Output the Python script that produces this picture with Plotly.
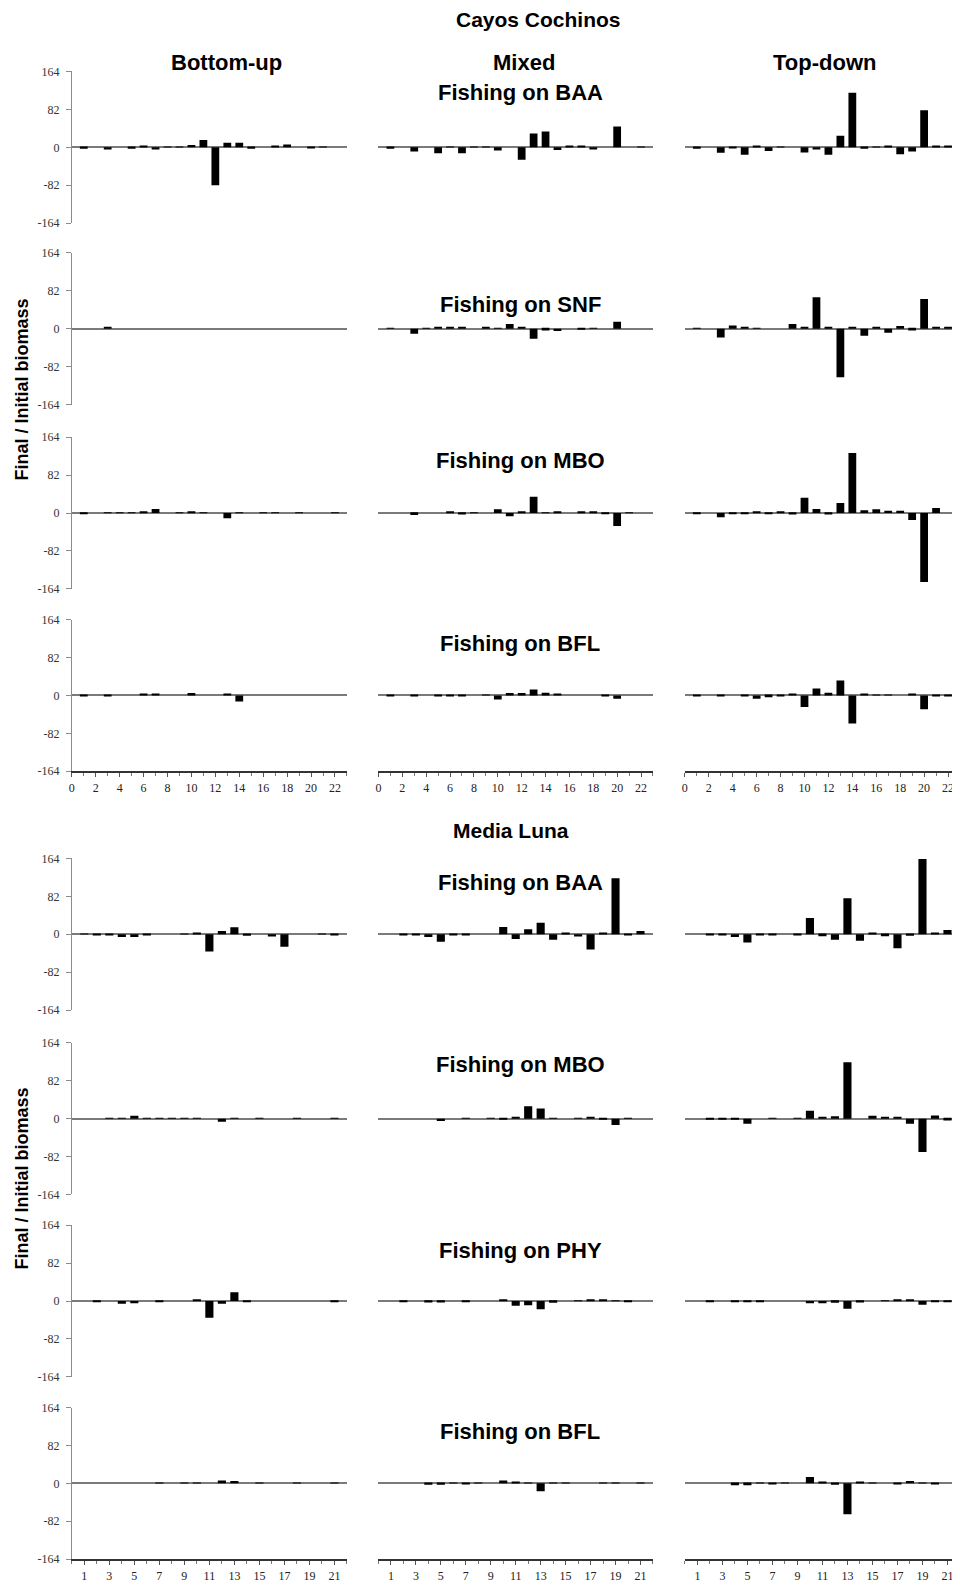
import plotly.graph_objects as go

# ---------------- data ----------------
# Cayos Cochinos: functional groups 1..22
cc_groups = list(range(1, 23))
cc_baa_bu = [-3, 0, -5, 0, -3, 3, -5, 1, 1, 5, 16, -82, 10, 10, -3, 0, 4, 6, 0, -1, 1, 0]
cc_baa_mx = [-3, 0, -9, 0, -13, 1, -13, 1, 1, -7, 0, -27, 30, 34, -6, 2, 3, -5, 0, 45, 0, 1]
cc_baa_td = [-3, 0, -12, -1, -16, 3, -8, 1, 0, -11, -5, -16, 25, 118, -3, 1, 3, -15, -9, 80, 4, 2]

cc_snf_bu = [0, 0, 4, 0, 0, 0, 0, 0, 0, 0, 0, 0, 0, 0, 0, 0, 0, 0, 0, 0, 0, 0]
cc_snf_mx = [1, 0, -11, 1, 3, 2, 3, 0, 3, 1, 10, 2, -22, -4, -5, 0, -2, 1, 0, 15, 0, 0]
cc_snf_td = [1, 0, -19, 7, 4, 1, 0, 0, 10, 4, 68, 3, -105, 2, -15, 4, -9, 6, -4, 64, 2, 2]

cc_mbo_bu = [-1, 0, 1, 1, 1, 4, 9, 0, 1, 3, 1, 0, -11, 1, 0, 1, 1, 0, 1, 0, 0, 1]
cc_mbo_mx = [0, 0, -4, 0, 0, 2, -3, 1, 0, 8, -7, 2, 35, 1, 3, 0, 2, 2, -1, -28, 1, 0]
cc_mbo_td = [-1, 0, -9, -1, -2, 4, -1, 2, -3, 33, 9, -3, 22, 130, 6, 8, 5, 5, -15, -149, 11, 0]

cc_bfl_bu = [-1, 0, -1, 0, 0, 2, 2, 0, 0, 5, 0, 0, 4, -13, 0, 0, 0, 0, 0, 0, 0, 0]
cc_bfl_mx = [-1, 0, -2, 0, -1, -2, -2, 0, 1, -9, 5, 5, 13, 6, 2, 0, 0, 0, -1, -7, 0, 0]
cc_bfl_td = [-1, 0, -1, 0, -1, -7, -4, -1, 3, -25, 15, 6, 32, -61, 4, 1, 1, 0, 4, -30, -2, -1]

# Media Luna: functional groups 1..21
ml_groups = list(range(1, 22))
ml_baa_bu = [1, -2, -1, -6, -6, -1, 0, 0, 1, 4, -37, 7, 15, -3, 0, -5, -27, 0, 0, 1, -1]
ml_baa_mx = [0, -2, -1, -6, -16, -1, -1, 0, 0, 16, -10, 11, 25, -12, 2, -5, -33, 2, 121, -1, 7]
ml_baa_td = [0, -2, -2, -6, -18, -1, -2, 0, -1, 35, -4, -12, 78, -14, 2, -4, -30, -3, 163, 2, 9]

ml_mbo_bu = [0, 0, 1, 1, 6, 1, 1, 1, 1, 1, 0, -7, 1, 0, 1, 0, 0, 1, 0, 0, 1]
ml_mbo_mx = [0, 0, 0, 0, -5, 0, 1, 0, 1, -2, 2, 27, 22, 1, 0, 1, 3, -2, -14, 1, 0]
ml_mbo_td = [0, -1, -1, -1, -11, 0, 1, 0, 1, 17, 4, 5, 122, 0, 6, 2, 2, -11, -72, 7, -4]

ml_phy_bu = [0, -1, 0, -6, -5, 0, -1, 0, 0, 3, -36, -6, 19, -2, 0, 0, 0, 0, 0, 0, -1]
ml_phy_mx = [0, -1, 0, -3, -3, 0, -1, 0, 0, 3, -10, -9, -18, -4, 0, 1, 2, 3, 1, -1, 0]
ml_phy_td = [0, -1, 0, -2, -2, -1, 0, 0, 0, -5, -5, -4, -17, -3, 0, 1, 3, 2, -8, -1, -1]

ml_bfl_bu = [0, 0, 0, 0, 0, 0, 1, 0, 1, 1, 0, 6, 5, 0, 1, 0, 0, 1, 0, 0, 1]
ml_bfl_mx = [0, 0, 0, -3, -3, 1, -1, 1, 0, 6, 3, 1, -17, 1, 1, 0, 0, 1, 1, 0, 1]
ml_bfl_td = [0, 0, 0, -4, -4, 1, -2, 1, 0, 14, 4, -3, -67, 2, 1, 0, -1, 5, 1, -1, 0]

scenario_labels = ["Bottom-up", "Mixed", "Top-down"]
site_labels = ["Cayos Cochinos", "Media Luna"]
row_titles = ["Fishing on BAA", "Fishing on SNF", "Fishing on MBO", "Fishing on BFL",
              "Fishing on BAA", "Fishing on MBO", "Fishing on PHY", "Fishing on BFL"]
y_ticks = [164, 82, 0, -82, -164]
cc_xticks = list(range(0, 23, 2))
ml_xticks = list(range(1, 22, 2))
y_title = "Final / Initial biomass"

rows = [
    (cc_groups, [cc_baa_bu, cc_baa_mx, cc_baa_td]),
    (cc_groups, [cc_snf_bu, cc_snf_mx, cc_snf_td]),
    (cc_groups, [cc_mbo_bu, cc_mbo_mx, cc_mbo_td]),
    (cc_groups, [cc_bfl_bu, cc_bfl_mx, cc_bfl_td]),
    (ml_groups, [ml_baa_bu, ml_baa_mx, ml_baa_td]),
    (ml_groups, [ml_mbo_bu, ml_mbo_mx, ml_mbo_td]),
    (ml_groups, [ml_phy_bu, ml_phy_mx, ml_phy_td]),
    (ml_groups, [ml_bfl_bu, ml_bfl_mx, ml_bfl_td]),
]

# ---------------- layout geometry (page pixels) ----------------
PAGE_OFF = 8          # default body margin of the html page
W, H = 960 - PAGE_OFF, 1588 - PAGE_OFF
row_tops = [65, 248, 434, 618, 859, 1045, 1229, 1413]
row_h = 153
col_x = [(69, 345), (376.6, 652), (684, 960)]
title_y = [86, 300, 457, 642, 883, 1067, 1255, 1437]


def px_x(v):
    return (v - PAGE_OFF) / W


def px_y(v):
    return 1 - (v - PAGE_OFF) / H


fig = go.Figure()
layout = dict(
    width=W, height=H, autosize=False,
    margin=dict(l=0, r=0, t=0, b=0),
    paper_bgcolor="white", plot_bgcolor="white",
    showlegend=False,
)

tick_font = dict(family="Liberation Serif, Times New Roman, serif", size=12, color="#222")
k = 0
for r, (groups, series) in enumerate(rows):
    top = row_tops[r]
    bottom = top + row_h
    is_top_site = r < 4
    bottom_row = r in (3, 7)
    for c in range(3):
        k += 1
        xa = "x" if k == 1 else f"x{k}"
        ya = "y" if k == 1 else f"y{k}"
        fig.add_trace(go.Bar(
            x=groups, y=series[c], xaxis=xa, yaxis=ya,
            marker=dict(color="black", line=dict(width=0)),
            width=0.65,
        ))
        xkey = "xaxis" if k == 1 else f"xaxis{k}"
        ykey = "yaxis" if k == 1 else f"yaxis{k}"
        xrange = [0, 23] if is_top_site else [0, 22]
        xticks = cc_xticks if is_top_site else ml_xticks
        xa_dict = dict(
            domain=[px_x(col_x[c][0]), px_x(col_x[c][1])],
            anchor=ya, range=xrange, showgrid=False, zeroline=False,
            fixedrange=True,
        )
        if bottom_row:
            xa_dict.update(
                showline=True, linecolor="#333", linewidth=2,
                ticks="outside", ticklen=4, tickcolor="#555", tickwidth=1,
                tickvals=xticks, ticktext=[str(t) for t in xticks],
                tickfont=tick_font,
                minor=dict(dtick=1, tick0=0, ticks="outside", ticklen=3, tickcolor="#777"),
            )
        else:
            xa_dict.update(showline=False, showticklabels=False, ticks="")
        layout[xkey] = xa_dict

        ya_dict = dict(
            domain=[px_y(bottom), px_y(top)], anchor=xa,
            range=[-164, 164], showgrid=False,
            zeroline=True, zerolinecolor="#7a7a7a", zerolinewidth=1.5,
            fixedrange=True,
        )
        if c == 0:
            ya_dict.update(
                showline=True, linecolor="#8c8c8c", linewidth=1,
                ticks="outside", ticklen=5, tickcolor="#8c8c8c",
                ticklabelstandoff=4,
                tickvals=y_ticks, ticktext=[str(t) for t in y_ticks],
                tickfont=dict(family="Liberation Serif, Times New Roman, serif", size=12, color="#333"),
            )
        else:
            ya_dict.update(showline=False, showticklabels=False, ticks="")
        layout[ykey] = ya_dict

annotations = []
bold = dict(family="Liberation Sans, Arial, sans-serif", color="black")


def add_text(text, x, y, size, angle=0):
    annotations.append(dict(
        text=f"<b>{text}</b>", x=px_x(x), y=px_y(y), xref="paper", yref="paper",
        xanchor="center", yanchor="middle", showarrow=False, textangle=angle,
        font=dict(size=size, **bold),
    ))


add_text(site_labels[0], 537, 13, 21)
add_text(site_labels[1], 510, 831, 21)
for lbl, cx in zip(scenario_labels, [224, 523, 824]):
    add_text(lbl, cx, 56, 22)
for t, ty in zip(row_titles, title_y):
    add_text(t, 519, ty, 22)
add_text(y_title, 19, 386, 18, -90)
add_text(y_title, 19, 1182, 18, -90)

layout["annotations"] = annotations
fig.update_layout(**layout)
fig.write_html("out.html")
